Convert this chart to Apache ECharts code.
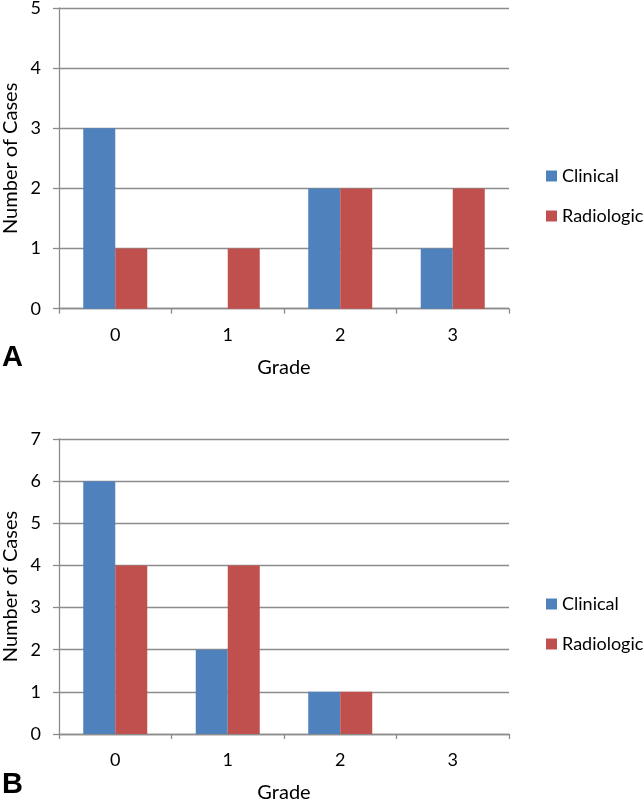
<!DOCTYPE html>
<html>
<head>
<meta charset="utf-8">
<script src="https://cdn.jsdelivr.net/npm/echarts@6/dist/echarts.min.js"></script>
<style>
html,body{margin:0;padding:0;background:#fff;}
#c{width:644px;height:803px;}
</style>
</head>
<body>
<div id="c"></div>
<script>
var grades = ['0', '1', '2', '3'];
var clinicalA = [3, 0, 2, 1];
var radiologicA = [1, 1, 2, 2];
var clinicalB = [6, 2, 1, 0];
var radiologicB = [4, 4, 1, 0];
var seriesNames = ['Clinical', 'Radiologic'];
var panelLabels = ['A', 'B'];

var FONT = 'Lato';
var gridColor = '#8c8c8c';
var blue = '#4F81BD';
var red = '#C0504D';

function xAxis(gi) {
  return {
    type: 'category', gridIndex: gi, data: grades,
    name: 'Grade', nameLocation: 'middle', nameGap: 49, nameMoveOverlap: false,
    nameTextStyle: {fontFamily: FONT, fontSize: 20, color: '#000'},
    axisLine: {lineStyle: {color: gridColor, width: 1.3}},
    axisTick: {show: true, length: 5, lineStyle: {color: gridColor, width: 1.3}},
    axisLabel: {fontFamily: FONT, fontSize: 18, color: '#000', margin: 17}
  };
}
function yAxis(gi, max) {
  return {
    type: 'value', gridIndex: gi, min: 0, max: max, interval: 1,
    name: 'Number of Cases', nameLocation: 'middle', nameGap: 38, nameMoveOverlap: false,
    nameTextStyle: {fontFamily: FONT, fontSize: 20, color: '#000'},
    axisLine: {show: true, lineStyle: {color: gridColor, width: 1.3}},
    axisTick: {show: true, length: 6, lineStyle: {color: gridColor, width: 1.3}},
    axisLabel: {fontFamily: FONT, fontSize: 18, color: '#000', margin: 18},
    splitLine: {show: true, lineStyle: {color: gridColor, width: 1.3}}
  };
}
function legend(top) {
  return {
    orient: 'vertical', left: 546, top: top, padding: 0, data: seriesNames,
    icon: 'rect', itemWidth: 11, itemHeight: 11, itemGap: 22,
    textStyle: {fontFamily: FONT, fontSize: 18, color: '#000'}
  };
}
function bar(name, data, gi, color) {
  return {
    name: name, type: 'bar', xAxisIndex: gi, yAxisIndex: gi, data: data,
    barWidth: 32, barGap: '0%', itemStyle: {color: color},
    emphasis: {disabled: true}
  };
}

var chart = echarts.init(document.getElementById('c'));
chart.setOption({
  animation: false,
  backgroundColor: '#fff',
  grid: [
    {left: 59, top: 8, width: 450, height: 300.7, containLabel: false, outerBoundsMode: 'none'},
    {left: 59, top: 439, width: 450, height: 295, containLabel: false, outerBoundsMode: 'none'}
  ],
  xAxis: [xAxis(0), xAxis(1)],
  yAxis: [yAxis(0, 5), yAxis(1, 7)],
  legend: [legend(167), legend(595)],
  graphic: [
    {type: 'text', left: 2, top: 343, style: {text: panelLabels[0], font: 'bold 29px "Liberation Sans", Arial', fill: '#000'}},
    {type: 'text', left: 2, top: 770, style: {text: panelLabels[1], font: 'bold 29px "Liberation Sans", Arial', fill: '#000'}}
  ],
  series: [
    bar(seriesNames[0], clinicalA, 0, blue),
    bar(seriesNames[1], radiologicA, 0, red),
    bar(seriesNames[0], clinicalB, 1, blue),
    bar(seriesNames[1], radiologicB, 1, red)
  ]
});
</script>
</body>
</html>
